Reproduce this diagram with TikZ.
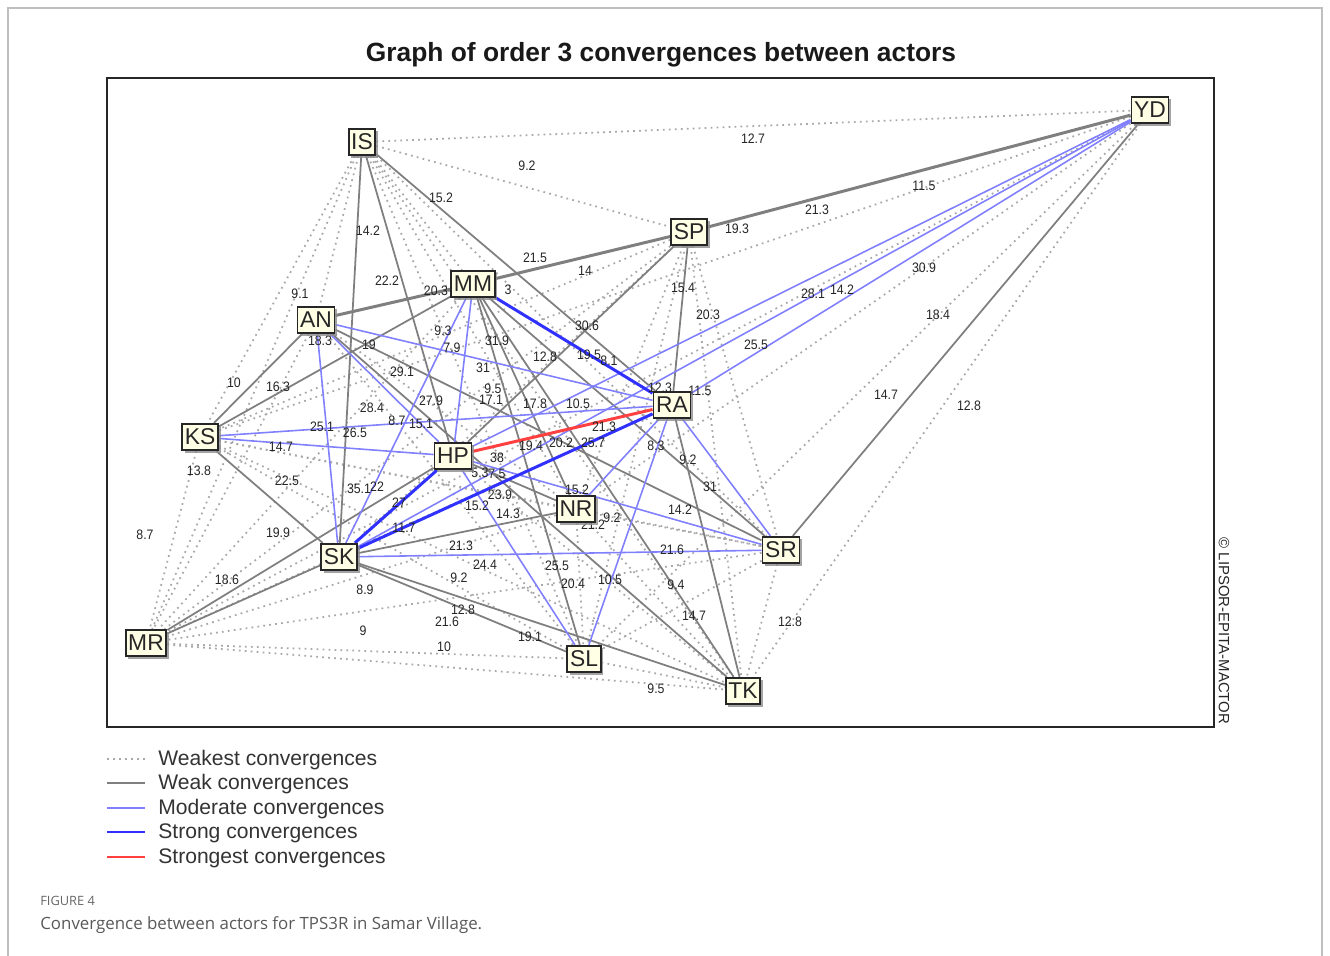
\documentclass[tikz,border=0pt]{standalone}
\usepackage{fontspec}
\setmainfont{Liberation Sans}
\newfontfamily\narrowfont[FakeStretch=0.9]{Liberation Sans}
\newfontfamily\capfont{Open Sans}
\usetikzlibrary{backgrounds,shadows}
\definecolor{weakgray}{HTML}{7F7F7F}
\definecolor{dotgray}{HTML}{A8A8A8}
\definecolor{modblue}{HTML}{8080FF}
\definecolor{strongblue}{HTML}{3030FF}
\definecolor{redline}{HTML}{FF4040}
\definecolor{boxfill}{HTML}{FFFFE6}
\tikzset{
 actor/.style={draw=black!85, line width=1.1pt, fill=boxfill, font=\fontsize{13}{14}\selectfont,
   inner xsep=1.5pt, inner ysep=0pt, minimum height=15pt, text=black!85,
   drop shadow={shadow xshift=1.5pt, shadow yshift=-1.5pt, fill=black!45, opacity=0.8}},
 weakest/.style={draw=dotgray, line width=1pt, dash pattern=on 1pt off 2.4pt},
 weak/.style={draw=weakgray, line width=1pt},
 moderate/.style={draw=modblue, line width=0.9pt},
 strong/.style={draw=strongblue, line width=1.7pt},
 strongest/.style={draw=redline, line width=1.7pt},
 val/.style={font=\narrowfont\fontsize{7.8}{8}\selectfont, text=black!85, inner sep=0pt},
 legtext/.style={font=\fontsize{12}{13}\selectfont, text=black!80, anchor=west, inner sep=0pt},
}
\begin{document}
\begin{tikzpicture}[x=0.02cm,y=-0.02cm]
\useasboundingbox (0,0) rectangle (1330,956);
\draw[black!25, line width=0.6pt] (8,956) -- (8,8) -- (1322,8) -- (1322,956);
\node[font=\bfseries\fontsize{15}{16}\selectfont, text=black!90] (title) at (661,55) {Graph of order 3 convergences between actors};
\draw[line width=1.1pt, black!85] (107,78) rectangle (1214,727);
\node[rotate=-90, font=\fontsize{8.5}{9}\selectfont, text=black!85, inner sep=0pt] (copy) at (1224,631) {© LIPSOR-EPITA-MACTOR};

% actors
\node[actor] (IS) at (362,142) {IS};
\node[actor] (YD) at (1150,110) {YD};
\node[actor] (SP) at (689,232) {SP};
\node[actor] (MM) at (473,284) {MM};
\node[actor] (AN) at (316,320) {AN};
\node[actor] (KS) at (200,437) {KS};
\node[actor] (HP) at (453,456) {HP};
\node[actor] (RA) at (672,405) {RA};
\node[actor] (NR) at (576,509) {NR};
\node[actor] (SK) at (339,557) {SK};
\node[actor] (SR) at (781,550) {SR};
\node[actor] (MR) at (146,643) {MR};
\node[actor] (SL) at (584,659) {SL};
\node[actor] (TK) at (743,691) {TK};

\begin{scope}[on background layer]
% weakest convergences
\foreach \a/\b in {IS/YD,IS/SP,IS/MM,IS/AN,IS/KS,IS/NR,IS/SR,IS/MR,IS/SL,IS/TK,
  YD/KS,YD/NR,YD/MR,YD/SL,YD/TK,
  SP/KS,SP/NR,SP/SK,SP/SR,SP/MR,SP/SL,SP/TK,
  MM/MR,AN/NR,AN/MR,AN/SL,
  KS/NR,KS/SR,KS/MR,KS/SL,KS/TK,
  HP/TK,RA/MR,NR/SR,NR/MR,NR/SL,NR/TK,
  SR/MR,SR/SL,SR/TK,MR/SL,MR/TK,SL/TK}
  \draw[weakest] (\a) -- (\b);
% weak convergences
\foreach \a/\b in {IS/SK,IS/HP,IS/RA,SP/HP,SP/RA,RA/TK,SR/YD,
  KS/AN,KS/MM,KS/SK,MR/SK,MR/HP,SK/SL,SK/TK,SK/NR,MM/NR,MM/SL,MM/SR,MM/TK,AN/SR,AN/TK,HP/NR}
  \draw[weak] (\a) -- (\b);
\foreach \a/\b in {AN/MM,MM/SP,SP/YD}
  \draw[weak, line width=1.7pt] (\a) -- (\b);
% moderate convergences
\foreach \a/\b in {AN/RA,AN/SK,AN/HP,KS/HP,KS/RA,MM/HP,MM/SK,HP/SR,HP/SL,RA/NR,RA/SL,RA/SR,
  SK/SR,YD/HP,YD/SK,YD/RA}
  \draw[moderate] (\a) -- (\b);
% strong convergences
\foreach \a/\b in {MM/RA,SK/HP,SK/RA}
  \draw[strong] (\a) -- (\b);
% strongest convergence
\draw[strongest] (HP) -- (RA);
% values
\foreach \x/\y/\t [count=\i] in {753/139/12.7, 527/166/9.2, 441/198/15.2, 368/231/14.2, 924/186/11.5,
  817/210/21.3, 737/229/19.3, 535/258/21.5, 585/271/14, 387/281/22.2, 300/294/9.1, 436/291/20.3,
  508/290/3, 683/288/15.4, 924/268/30.9, 813/294/28.1, 842/290/14.2, 708/315/20.3, 938/315/18.4,
  320/341/18.3, 369/345/19, 443/331/9.3, 452/348/7.9, 497/341/31.9, 587/326/30.6, 545/357/12.8,
  589/355/19.5, 609/361/8.1, 756/345/25.5, 402/372/29.1, 483/368/31, 234/383/10, 278/387/16.3,
  493/389/9.5, 491/400/17.1, 660/388/12.3, 700/391/11.5, 886/395/14.7, 969/406/12.8, 431/401/27.9,
  372/408/28.4, 535/404/17.8, 578/404/10.5, 397/421/8.7, 421/424/15.1, 322/427/25.1, 355/433/26.5,
  604/427/21.3, 281/447/14.7, 531/446/19.4, 561/443/20.2, 593/443/25.7, 656/446/8.3, 688/460/9.2,
  199/471/13.8, 497/458/38, 480/473/5.3, 497/474/7.5, 287/481/22.5, 359/489/35.1, 377/487/22,
  710/487/31, 399/503/27, 500/495/23.9, 477/506/15.2, 508/514/14.3, 577/490/15.2, 612/518/9.2,
  593/525/21.2, 680/510/14.2, 404/528/11.7, 145/535/8.7, 278/533/19.9, 461/546/21.3, 672/550/21.6,
  485/565/24.4, 557/566/25.5, 459/578/9.2, 573/584/20.4, 610/580/10.5, 676/585/9.4, 227/580/18.6,
  365/590/8.9, 463/610/12.8, 447/622/21.6, 694/616/14.7, 790/622/12.8, 363/631/9, 530/637/19.1,
  444/647/10, 656/689/9.5}
  \node[val] (v\i) at (\x,\y) {\t};
\end{scope}

% legend
\coordinate (la1) at (107,759); \coordinate (lb1) at (145,759);
\coordinate (la2) at (107,783); \coordinate (lb2) at (145,783);
\coordinate (la3) at (107,808); \coordinate (lb3) at (145,808);
\coordinate (la4) at (107,832); \coordinate (lb4) at (145,832);
\coordinate (la5) at (107,857); \coordinate (lb5) at (145,857);
\draw[weakest] (la1) -- (lb1);
\draw[weak, line width=1.2pt] (la2) -- (lb2);
\draw[moderate, line width=1.2pt] (la3) -- (lb3);
\draw[strong] (la4) -- (lb4);
\draw[strongest] (la5) -- (lb5);
\node[legtext] (t1) at (158,760) {Weakest convergences};
\node[legtext] (t2) at (158,784) {Weak convergences};
\node[legtext] (t3) at (158,809) {Moderate convergences};
\node[legtext] (t4) at (158,833) {Strong convergences};
\node[legtext] (t5) at (158,858) {Strongest convergences};

% caption
\node[anchor=west, inner sep=0pt, font=\capfont\fontsize{7.3}{8}\selectfont, text=black!60] (fig) at (40,901) {FIGURE 4};
\node[anchor=west, inner sep=0pt, font=\capfont\fontsize{9.6}{11}\selectfont, text=black!65] (cap) at (40,925) {Convergence between actors for TPS3R in Samar Village.};
\end{tikzpicture}
\end{document}
